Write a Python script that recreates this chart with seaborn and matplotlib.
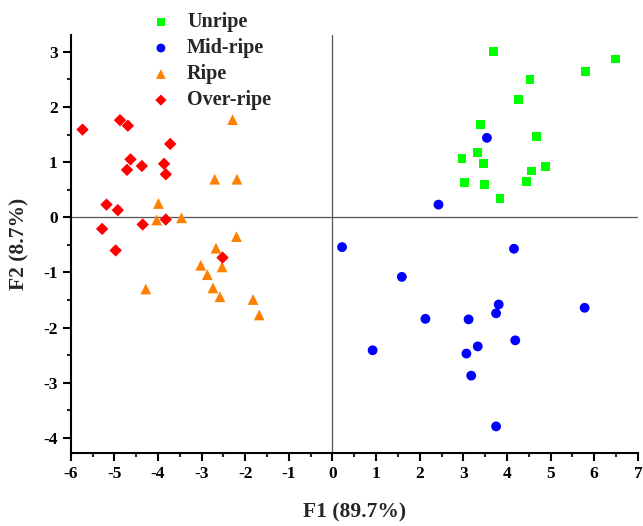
# ============================================================
# PCA score plot - fruit ripeness stages
# ============================================================

import numpy as np
import pandas as pd
import matplotlib
matplotlib.use("Agg")
import matplotlib.pyplot as plt
import seaborn as sns
from matplotlib.ticker import MultipleLocator

# ============================================================
# Data
# ============================================================

unripe_x = [3.69, 6.48, 5.80, 4.53, 4.27, 3.39, 4.67, 3.33, 2.97, 3.46, 4.89, 4.56, 3.03, 3.49, 4.45, 3.84]
unripe_y = [3.01, 2.87, 2.64, 2.50, 2.13, 1.68, 1.47, 1.18, 1.06, 0.97, 0.92, 0.84, 0.63, 0.59, 0.65, 0.34]

midripe_x = [3.54, 2.43, 0.22, 4.16, 1.59, 3.81, 3.75, 5.78, 2.13, 3.12, 4.19, 3.33, 0.92, 3.07, 3.18, 3.75]
midripe_y = [1.44, 0.23, -0.54, -0.57, -1.08, -1.58, -1.74, -1.64, -1.84, -1.85, -2.23, -2.34, -2.41, -2.47, -2.87, -3.79]

ripe_x = [-2.29, -2.70, -2.19, -3.99, -4.03, -3.46, -2.20, -2.67, -2.53, -3.02, -2.87, -4.28, -2.74, -2.58, -1.82, -1.68]
ripe_y = [1.77, 0.69, 0.69, 0.25, -0.05, -0.01, -0.35, -0.56, -0.90, -0.87, -1.04, -1.30, -1.28, -1.44, -1.49, -1.77]

overripe_x = [-5.73, -4.87, -4.69, -3.72, -4.63, -4.37, -4.71, -3.86, -3.82, -5.18, -4.92, -3.82, -4.35, -5.28, -4.97, -2.52]
overripe_y = [1.59, 1.76, 1.66, 1.33, 1.05, 0.93, 0.86, 0.97, 0.78, 0.23, 0.13, -0.04, -0.13, -0.21, -0.60, -0.73]

groups = ["Unripe", "Mid-ripe", "Ripe", "Over-ripe"]

df = pd.concat([
    pd.DataFrame({"F1": unripe_x, "F2": unripe_y, "Stage": "Unripe"}),
    pd.DataFrame({"F1": midripe_x, "F2": midripe_y, "Stage": "Mid-ripe"}),
    pd.DataFrame({"F1": ripe_x, "F2": ripe_y, "Stage": "Ripe"}),
    pd.DataFrame({"F1": overripe_x, "F2": overripe_y, "Stage": "Over-ripe"}),
], ignore_index=True)

palette = {"Unripe": "#00FF00", "Mid-ripe": "#0000FF", "Ripe": "#FF8000", "Over-ripe": "#FF0000"}
markers = {"Unripe": "s", "Mid-ripe": "o", "Ripe": "^", "Over-ripe": "D"}
sizes = {"Unripe": 40, "Mid-ripe": 50, "Ripe": 60, "Over-ripe": 40}

# ============================================================
# Plot
# ============================================================

sns.set_style("ticks")
plt.rcParams["font.family"] = ["Liberation Serif", "DejaVu Serif"]
plt.rcParams["font.weight"] = "bold"
plt.rcParams["axes.unicode_minus"] = False

fig = plt.figure(figsize=(6.43, 5.26), dpi=100)
ax = fig.add_axes([0.110, 0.139, 0.882, 0.794])

ax.axhline(0, color="#555555", lw=0.9, zorder=0)
ax.axvline(0, color="#555555", lw=0.9, zorder=0)

for g in groups:
    sub = df[df["Stage"] == g]
    sns.scatterplot(
        data=sub,
        x="F1",
        y="F2",
        color=palette[g],
        marker=markers[g],
        s=sizes[g],
        edgecolor="none",
        label=g,
        ax=ax,
        zorder=3
    )

ax.set_xlim(-6, 7)
ax.set_ylim(-4.27, 3.3)
ax.xaxis.set_major_locator(MultipleLocator(1))
ax.xaxis.set_minor_locator(MultipleLocator(0.5))
ax.yaxis.set_major_locator(MultipleLocator(1))
ax.yaxis.set_minor_locator(MultipleLocator(0.5))

sns.despine(ax=ax)
for side in ["left", "bottom"]:
    ax.spines[side].set_linewidth(1.5)
    ax.spines[side].set_color("black")

ax.tick_params(which="major", direction="out", length=6, width=1.5, labelsize=12.5, colors="black")
ax.tick_params(which="minor", direction="out", length=3, width=1.5)
for lab in ax.get_xticklabels() + ax.get_yticklabels():
    lab.set_fontweight("bold")

ax.set_xlabel("F1 (89.7%)", fontsize=15.5, fontweight="bold", labelpad=15)
ax.set_ylabel("F2 (8.7%)", fontsize=15.5, fontweight="bold", labelpad=10)

leg = ax.legend(
    loc="upper left",
    bbox_to_anchor=(0.222, 0.992),
    bbox_transform=fig.transFigure,
    borderaxespad=0,
    frameon=False,
    prop={"size": 14.5, "weight": "bold"},
    handlelength=1.0,
    handletextpad=0.8,
    labelspacing=0.3,
    markerscale=0.9
)

fig.savefig("out.png", dpi=100)
plt.close()
